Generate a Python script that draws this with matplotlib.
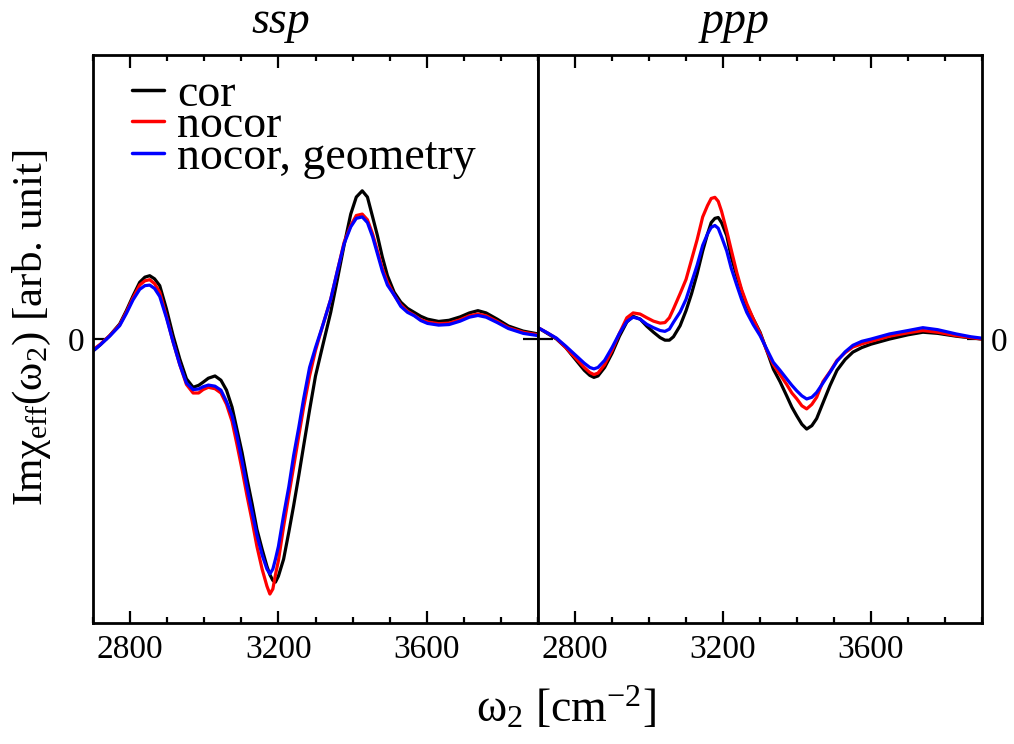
import matplotlib
matplotlib.use("Agg")
import matplotlib.pyplot as plt
from matplotlib.ticker import MultipleLocator

plt.rcParams['font.family'] = ['Liberation Serif', 'DejaVu Serif']
plt.rcParams['mathtext.fontset'] = 'custom'
plt.rcParams['mathtext.rm'] = 'Liberation Serif'
plt.rcParams['mathtext.it'] = 'Liberation Serif:italic'

# --- ssp spectra ---
w_ssp = [2700, 2720, 2745, 2772, 2790, 2808, 2826, 2840, 2853, 2866, 2880, 2898, 2916,
         2934, 2952, 2970, 2985, 2997, 3011, 3029, 3045, 3060, 3075, 3088, 3102, 3115,
         3129, 3142, 3156, 3169, 3177, 3185, 3192, 3200, 3214, 3228, 3241, 3255, 3268,
         3284, 3300, 3320, 3341, 3359, 3377, 3395, 3410, 3426, 3440, 3454, 3467, 3480,
         3494, 3512, 3530, 3548, 3566, 3584, 3602, 3632, 3660, 3690, 3715, 3738, 3760,
         3790, 3820, 3860, 3900]
ssp_cor = [-0.042, -0.02, 0.012, 0.053, 0.10, 0.152, 0.20, 0.218, 0.223, 0.212, 0.188,
           0.106, 0.012, -0.07, -0.14, -0.17, -0.163, -0.152, -0.138, -0.13, -0.145, -0.18,
           -0.24, -0.317, -0.40, -0.49, -0.58, -0.67, -0.74, -0.80, -0.83, -0.85, -0.856,
           -0.835, -0.775, -0.68, -0.587, -0.48, -0.376, -0.25, -0.13, -0.02, 0.094, 0.21,
           0.33, 0.44, 0.50, 0.522, 0.50, 0.43, 0.364, 0.29, 0.223, 0.165, 0.13, 0.108,
           0.094, 0.08, 0.07, 0.062, 0.066, 0.078, 0.092, 0.10, 0.092, 0.07, 0.046, 0.028,
           0.018]
ssp_nocor = [-0.038, -0.018, 0.012, 0.05, 0.095, 0.145, 0.19, 0.205, 0.209, 0.195, 0.165,
             0.08, -0.01, -0.09, -0.16, -0.19, -0.19, -0.178, -0.17, -0.175, -0.19, -0.23,
             -0.29, -0.37, -0.46, -0.55, -0.64, -0.73, -0.81, -0.87, -0.898, -0.88, -0.83,
             -0.78, -0.66, -0.55, -0.45, -0.34, -0.24, -0.13, -0.04, 0.05, 0.14, 0.24, 0.34,
             0.40, 0.435, 0.44, 0.42, 0.37, 0.31, 0.25, 0.20, 0.155, 0.12, 0.098, 0.084,
             0.068, 0.06, 0.054, 0.056, 0.068, 0.082, 0.088, 0.082, 0.062, 0.04, 0.024, 0.015]
ssp_geom = [-0.042, -0.02, 0.01, 0.047, 0.09, 0.138, 0.175, 0.188, 0.19, 0.178, 0.15,
            0.075, -0.01, -0.09, -0.155, -0.178, -0.176, -0.168, -0.162, -0.166, -0.18,
            -0.22, -0.27, -0.34, -0.43, -0.52, -0.61, -0.69, -0.76, -0.81, -0.827, -0.81,
            -0.775, -0.73, -0.62, -0.52, -0.41, -0.31, -0.21, -0.10, -0.03, 0.05, 0.14,
            0.24, 0.335, 0.395, 0.425, 0.43, 0.41, 0.36, 0.30, 0.24, 0.19, 0.155, 0.115,
            0.094, 0.082, 0.065, 0.055, 0.049, 0.051, 0.063, 0.077, 0.083, 0.077, 0.058,
            0.037, 0.02, 0.012]

# --- ppp spectra ---
w_ppp = [2700, 2725, 2750, 2775, 2800, 2825, 2840, 2851, 2862, 2880, 2900, 2920, 2940,
         2957, 2976, 2994, 3012, 3030, 3043, 3055, 3066, 3084, 3100, 3115, 3130, 3145,
         3158, 3168, 3178, 3187, 3196, 3210, 3222, 3237, 3250, 3264, 3282, 3300, 3318,
         3336, 3354, 3372, 3386, 3399, 3413, 3426, 3440, 3453, 3470, 3489, 3508, 3530,
         3551, 3575, 3600, 3650, 3700, 3740, 3780, 3830, 3870, 3900]
ppp_cor = [0.04, 0.02, 0.0, -0.03, -0.07, -0.11, -0.128, -0.135, -0.13, -0.10, -0.05, 0.01,
           0.06, 0.08, 0.07, 0.045, 0.024, 0.005, -0.004, -0.004, 0.008, 0.047, 0.10, 0.16,
           0.23, 0.31, 0.37, 0.41, 0.425, 0.428, 0.41, 0.364, 0.29, 0.223, 0.17, 0.117,
           0.07, 0.024, -0.04, -0.106, -0.15, -0.20, -0.24, -0.27, -0.30, -0.317, -0.305,
           -0.28, -0.225, -0.164, -0.11, -0.072, -0.046, -0.03, -0.018, 0.0, 0.015, 0.024,
           0.02, 0.01, 0.004, 0.0]
ppp_nocor = [0.04, 0.022, 0.002, -0.03, -0.065, -0.10, -0.118, -0.125, -0.12, -0.09, -0.04,
             0.02, 0.075, 0.092, 0.088, 0.075, 0.063, 0.056, 0.058, 0.075, 0.106, 0.16,
             0.21, 0.28, 0.35, 0.43, 0.47, 0.495, 0.499, 0.485, 0.45, 0.38, 0.315, 0.235,
             0.175, 0.125, 0.07, 0.02, -0.04, -0.09, -0.125, -0.16, -0.19, -0.21, -0.235,
             -0.246, -0.23, -0.205, -0.15, -0.115, -0.075, -0.048, -0.028, -0.017, -0.008,
             0.01, 0.022, 0.03, 0.024, 0.012, 0.005, 0.0]
ppp_geom = [0.04, 0.022, 0.003, -0.025, -0.055, -0.085, -0.10, -0.105, -0.10, -0.075, -0.03,
            0.02, 0.062, 0.077, 0.07, 0.052, 0.04, 0.03, 0.027, 0.035, 0.059, 0.095, 0.14,
            0.20, 0.26, 0.33, 0.37, 0.393, 0.40, 0.39, 0.36, 0.31, 0.25, 0.19, 0.14, 0.094,
            0.05, 0.012, -0.035, -0.082, -0.11, -0.14, -0.163, -0.182, -0.20, -0.211,
            -0.205, -0.188, -0.155, -0.117, -0.078, -0.045, -0.022, -0.008, 0.0, 0.018,
            0.03, 0.04, 0.033, 0.018, 0.008, 0.003]

labels = ['cor', 'nocor', 'nocor, geometry']
colors = ['black', '#ff0000', '#0000ff']

fig = plt.figure(figsize=(10.14, 7.44), dpi=100)
ax1 = fig.add_axes([0.0917, 0.1626, 0.4389, 0.7634])
ax2 = fig.add_axes([0.5306, 0.1626, 0.4379, 0.7634])

for ax, w, series in [(ax1, w_ssp, [ssp_cor, ssp_nocor, ssp_geom]),
                      (ax2, w_ppp, [ppp_cor, ppp_nocor, ppp_geom])]:
    for ys, c, lab in zip(series, colors, labels):
        ax.plot(w, ys, color=c, lw=2.3, label=lab,
                solid_joinstyle='round', solid_capstyle='round')
    ax.set_xlim(2700, 3900)
    ax.set_ylim(-1, 1)
    ax.xaxis.set_major_locator(MultipleLocator(400))
    ax.xaxis.set_minor_locator(MultipleLocator(100))
    ax.set_yticks([0])
    ax.tick_params(axis='x', which='major', direction='in', top=True, bottom=True,
                   length=9, width=1.6, labelsize=24, pad=8)
    ax.tick_params(axis='x', which='minor', direction='in', top=True, bottom=True,
                   length=4.5, width=1.6)
    ax.tick_params(axis='y', direction='in', left=True, right=True, length=11,
                   width=1.6, labelsize=24, pad=6)
    for sp in ax.spines.values():
        sp.set_linewidth(2)

ax1.tick_params(axis='y', labelleft=True, labelright=False)
ax2.tick_params(axis='y', labelleft=False, labelright=True)

fig.text(281 / 1014, 1 - 22 / 744, 'ssp', style='italic', fontsize=33,
         ha='center', va='center')
fig.text(735 / 1014, 1 - 22 / 744, 'ppp', style='italic', fontsize=33,
         ha='center', va='center')

fig.text(32 / 1014, 1 - 328 / 744, r'Imχ$_{\rm eff}$(ω$_2$) [arb. unit]',
         rotation=90, fontsize=31, ha='center', va='center')
fig.text(566 / 1014, 1 - 708 / 744, r'ω$_2$ [cm$^{-2}$]', fontsize=33,
         ha='center', va='center')

leg = ax1.legend(loc='upper left', bbox_to_anchor=(0.025, 1.016), frameon=False,
                 fontsize=33, handlelength=0.7, handletextpad=0.3,
                 labelspacing=-0.24, borderaxespad=0.2)
for line in leg.get_lines():
    line.set_linewidth(2.5)

fig.savefig('out.png', dpi=100, facecolor='white')
